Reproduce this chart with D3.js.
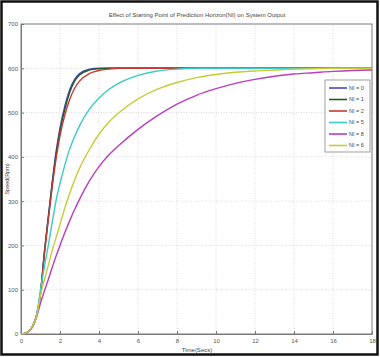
<!DOCTYPE html>
<html>
<head>
<meta charset="utf-8">
<script src="https://cdn.jsdelivr.net/npm/d3@7"></script>
<style>
  body { margin: 0; background: #fff; }
  svg { display: block; }
</style>
</head>
<body>
<script>
const WIDTH = 380;
const HEIGHT = 357;

const time = [0, 0.2, 0.4, 0.6, 0.8, 1.0, 1.2, 1.4, 1.6, 1.8, 2.0, 2.25, 2.5, 2.75, 3, 3.5, 4, 4.5, 5, 6, 7, 8, 9, 10, 11, 12, 13, 14, 15, 16, 17, 18];

const ni0 = [0, 1, 6, 18, 42, 92, 185, 265, 343, 412, 465, 515, 552, 575, 588, 598, 600, 600, 600, 600, 600, 600, 600, 600, 600, 600, 600, 600, 600, 600, 600, 600];
const ni1 = [0, 1, 6, 18, 42, 93, 184, 262, 338, 405, 458, 508, 546, 571, 585, 596, 599, 600, 600, 600, 600, 600, 600, 600, 600, 600, 600, 600, 600, 600, 600, 600];
const ni2 = [0, 1, 6, 18, 42, 90, 180, 258, 332, 396, 448, 495, 530, 555, 571, 588, 595, 598, 600, 600, 600, 600, 600, 600, 600, 600, 600, 600, 600, 600, 600, 600];
const ni5 = [0, 1, 6, 18, 42, 100, 152, 200, 252, 302, 340, 382, 418, 446, 470, 507, 533, 552, 566, 584, 594, 598, 600, 600, 600, 600, 600, 600, 600, 600, 600, 600];
const ni8 = [0, 1, 6, 17, 38, 70, 97, 123, 150, 176, 200, 229, 256, 281, 304, 345, 378, 404, 425, 462, 493, 519, 539, 554, 566, 575, 582, 587, 590, 593, 595, 596];
const ni6 = [0, 1, 6, 18, 40, 88, 122, 155, 188, 218, 247, 285, 318, 348, 374, 416, 451, 478, 499, 531, 553, 568, 579, 586, 591, 594, 596, 598, 599, 600, 600, 600];

const seriesNames = ['NI = 0', 'NI = 1', 'NI = 2', 'NI = 5', 'NI = 8', 'NI = 6'];
const seriesValues = [ni0, ni1, ni2, ni5, ni8, ni6];
const seriesColors = ['#4a4ab8', '#1f5a2e', '#c43a32', '#3ccbc4', '#b63ec0', '#c6cc3a'];

const xTicks = [0, 2, 4, 6, 8, 10, 12, 14, 16, 18];
const yTicks = [0, 100, 200, 300, 400, 500, 600, 700];

const TITLE = 'Effect of Starting Point of Prediction Horizon(NI) on System Output';
const X_LABEL = 'Time(Secs)';
const Y_LABEL = 'Speed(Rpm)';

const margin = { top: 24, right: 8, bottom: 23, left: 21 };

const svg = d3.select('body').append('svg')
    .attr('width', WIDTH)
    .attr('height', HEIGHT)
    .attr('viewBox', [0, 0, WIDTH, HEIGHT]);

// outer black frame
svg.append('rect')
    .attr('x', 1.5).attr('y', 1.5)
    .attr('width', WIDTH - 4).attr('height', HEIGHT - 4)
    .attr('fill', '#fff')
    .attr('stroke', '#111')
    .attr('stroke-width', 2.5);

const x = d3.scaleLinear().domain([0, 18]).range([margin.left, WIDTH - margin.right]);
const y = d3.scaleLinear().domain([0, 700]).range([HEIGHT - margin.bottom, margin.top]);

// grid
const grid = svg.append('g')
    .attr('stroke', '#d2d2d2')
    .attr('stroke-width', 0.8)
    .attr('stroke-dasharray', '1,1.5');
grid.selectAll('line.vx')
    .data(xTicks.slice(1, -1))
    .join('line')
        .attr('x1', d => x(d)).attr('x2', d => x(d))
        .attr('y1', y(0)).attr('y2', y(700));
grid.selectAll('line.hy')
    .data(yTicks.slice(1, -1))
    .join('line')
        .attr('x1', x(0)).attr('x2', x(18))
        .attr('y1', d => y(d)).attr('y2', d => y(d));

// axes (ticks drawn inward like matlab)
const fontFam = '"Liberation Sans Narrow", "Liberation Sans", Arial, sans-serif';
const xAxis = svg.append('g')
    .attr('transform', `translate(0,${y(0)})`)
    .call(d3.axisBottom(x).tickValues(xTicks).tickSize(-3).tickPadding(5).tickFormat(d3.format('d')));
const yAxis = svg.append('g')
    .attr('transform', `translate(${x(0)},0)`)
    .call(d3.axisLeft(y).tickValues(yTicks).tickSize(-3).tickPadding(3).tickFormat(d3.format('d')));
[xAxis, yAxis].forEach(ax => {
    ax.select('.domain').attr('stroke', '#7a7a7a');
    ax.selectAll('.tick line').attr('stroke', '#7a7a7a');
    ax.selectAll('.tick text')
        .attr('fill', '#555')
        .attr('font-family', fontFam)
        .attr('font-size', 6);
});

// box top/right
svg.append('rect')
    .attr('x', x(0)).attr('y', y(700))
    .attr('width', x(18) - x(0)).attr('height', y(0) - y(700))
    .attr('fill', 'none')
    .attr('stroke', '#7a7a7a')
    .attr('stroke-width', 1);

// lines
const line = d3.line()
    .x((d, i) => x(time[i]))
    .y(d => y(d))
    .curve(d3.curveMonotoneX);

svg.append('g')
    .attr('fill', 'none')
    .attr('stroke-width', 1.4)
    .selectAll('path')
    .data(seriesValues)
    .join('path')
        .attr('stroke', (d, i) => seriesColors[i])
        .attr('d', line);

// title and labels
svg.append('text')
    .attr('x', 197).attr('y', 17)
    .attr('text-anchor', 'middle')
    .attr('font-family', fontFam)
    .attr('font-size', 6)
    .attr('fill', '#444')
    .text(TITLE);

svg.append('text')
    .attr('x', 197).attr('y', 352)
    .attr('text-anchor', 'middle')
    .attr('font-family', fontFam)
    .attr('font-size', 6)
    .attr('fill', '#444')
    .text(X_LABEL);

svg.append('text')
    .attr('transform', `translate(9,${(y(0) + y(700)) / 2}) rotate(-90)`)
    .attr('text-anchor', 'middle')
    .attr('font-family', fontFam)
    .attr('font-size', 5.5)
    .attr('fill', '#444')
    .text(Y_LABEL);

// legend
const legend = svg.append('g').attr('transform', 'translate(325,80)');
legend.append('rect')
    .attr('width', 45).attr('height', 72)
    .attr('fill', '#fff')
    .attr('stroke', '#888')
    .attr('stroke-width', 0.8);
const items = legend.selectAll('g.item')
    .data(seriesNames)
    .join('g')
        .attr('transform', (d, i) => `translate(0,${8 + i * 11.5})`);
items.append('line')
    .attr('x1', 4).attr('x2', 22)
    .attr('stroke', (d, i) => seriesColors[i])
    .attr('stroke-width', 1.6);
items.append('text')
    .attr('x', 24).attr('dy', '0.35em')
    .attr('font-family', fontFam)
    .attr('font-size', 5.5)
    .attr('fill', '#444')
    .text(d => d);
</script>
</body>
</html>
